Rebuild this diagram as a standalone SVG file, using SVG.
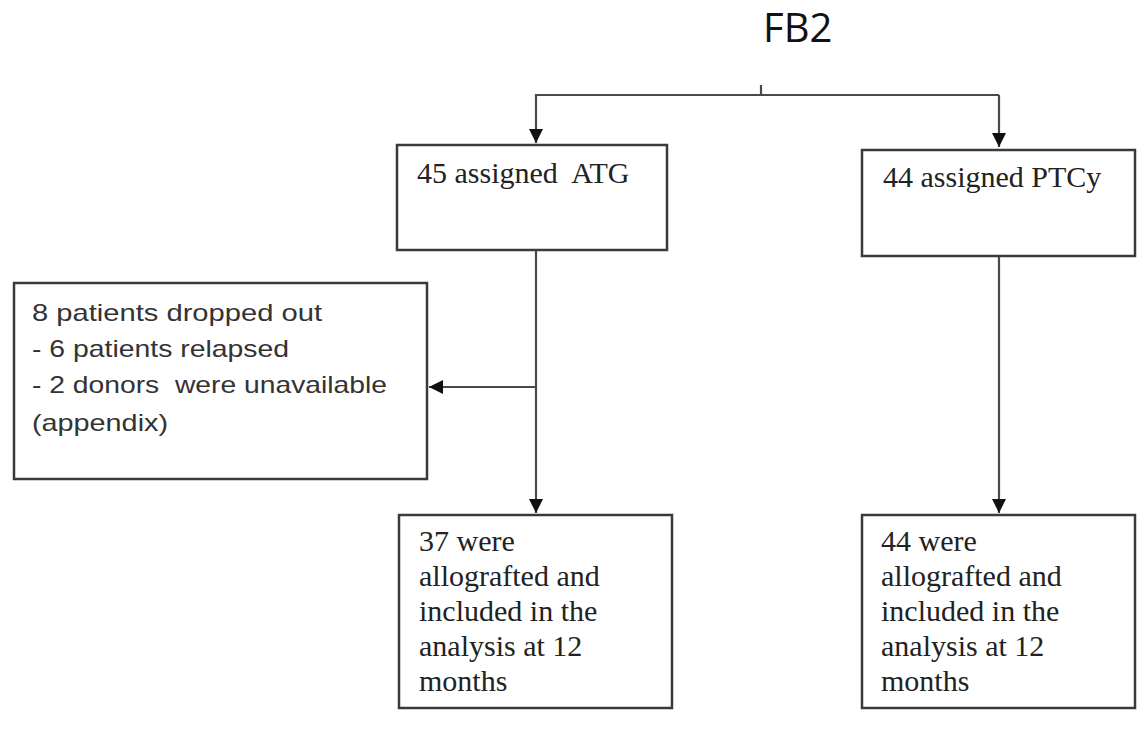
<svg xmlns="http://www.w3.org/2000/svg" width="1140" height="735" viewBox="0 0 1140 735">
<style>
.box{fill:#fff;stroke:#3a3a3a;stroke-width:2.5}
.ln{fill:none;stroke:#4a4a4a;stroke-width:2.2}
.serif{font-family:"Liberation Serif","Times New Roman",serif;font-size:30px;fill:#222}
.sans{font-family:"Liberation Sans",Arial,sans-serif;font-size:24px;fill:#333}
.title{font-family:"Open Sans","Liberation Sans",sans-serif;font-size:40px;fill:#111}
</style>
<defs>
<marker id="ah" viewBox="0 0 10 10" refX="10" refY="5" markerWidth="14" markerHeight="14" markerUnits="userSpaceOnUse" orient="auto">
<path d="M0,0 L10,5 L0,10 z" fill="#111"/>
</marker>
</defs>
<rect width="1140" height="735" fill="#fff"/>
<text class="title" x="763" y="42">FB2</text>
<g id="connectors">
<path class="ln" d="M761,85 V95"/>
<path class="ln" d="M999,95 H536 V143" marker-end="url(#ah)"/>
<path class="ln" d="M999,95 V147" marker-end="url(#ah)"/>
<path class="ln" d="M536,250 V513" marker-end="url(#ah)"/>
<path class="ln" d="M536,387 H429" marker-end="url(#ah)"/>
<path class="ln" d="M999,256 V513" marker-end="url(#ah)"/>
</g>
<g id="atg">
<rect class="box" x="397" y="145" width="270" height="105"/>
<text class="serif" x="417" y="183" xml:space="preserve">45 assigned  ATG</text>
</g>
<g id="ptcy">
<rect class="box" x="862" y="150" width="273" height="106"/>
<text class="serif" x="883" y="187">44 assigned PTCy</text>
</g>
<g id="dropout">
<rect class="box" x="14" y="283" width="413" height="196"/>
<text class="sans" x="32" y="321" textLength="290" lengthAdjust="spacingAndGlyphs">8 patients dropped out</text>
<text class="sans" x="32" y="357" textLength="257" lengthAdjust="spacingAndGlyphs">- 6 patients relapsed</text>
<text class="sans" x="32" y="393" textLength="355" lengthAdjust="spacingAndGlyphs" xml:space="preserve">- 2 donors  were unavailable</text>
<text class="sans" x="32" y="431" textLength="136" lengthAdjust="spacingAndGlyphs">(appendix)</text>
</g>
<g id="atg-result">
<rect class="box" x="399" y="515" width="273" height="193"/>
<text class="serif" x="419" y="551">37 were</text>
<text class="serif" x="419" y="586">allografted and</text>
<text class="serif" x="419" y="621">included in the</text>
<text class="serif" x="419" y="656">analysis at 12</text>
<text class="serif" x="419" y="691">months</text>
</g>
<g id="ptcy-result">
<rect class="box" x="862" y="515" width="273" height="193"/>
<text class="serif" x="881" y="551">44 were</text>
<text class="serif" x="881" y="586">allografted and</text>
<text class="serif" x="881" y="621">included in the</text>
<text class="serif" x="881" y="656">analysis at 12</text>
<text class="serif" x="881" y="691">months</text>
</g>
</svg>
